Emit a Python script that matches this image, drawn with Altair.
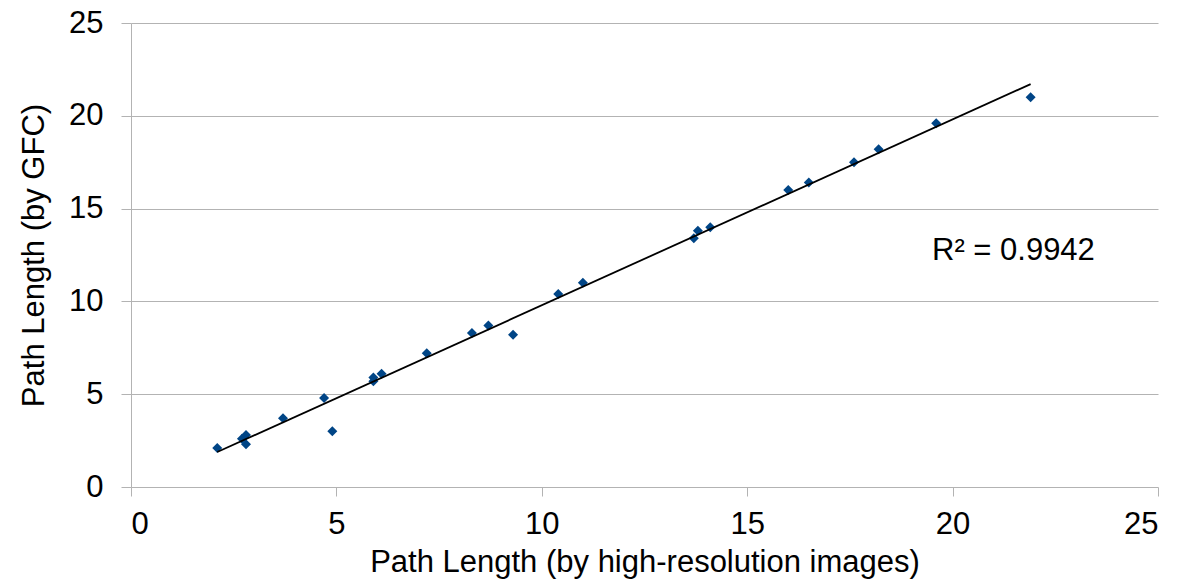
import altair as alt
import pandas as pd

x_vals = [2.1, 2.7, 2.8, 2.8, 3.7, 4.7, 4.9, 5.9, 5.9, 6.1, 7.2, 8.3, 8.7, 9.3,
          10.4, 11.0, 13.7, 13.8, 14.1, 16.0, 16.5, 17.6, 18.2, 19.6, 21.9]
y_vals = [2.1, 2.6, 2.8, 2.3, 3.7, 4.8, 3.0, 5.9, 5.7, 6.1, 7.2, 8.3, 8.7, 8.2,
          10.4, 11.0, 13.4, 13.8, 14.0, 16.0, 16.4, 17.5, 18.2, 19.6, 21.0]
r2_label = "R² = 0.9942"

df = pd.DataFrame({"x": x_vals, "y": y_vals})
FONT = "Liberation Sans"
FS = 31

xs = alt.Scale(domain=[0, 25], nice=False, zero=True)
ys = alt.Scale(domain=[0, 25], nice=False, zero=True)

base = alt.Chart(df)

points = base.mark_point(shape="diamond", filled=True, size=100, color="#004586", opacity=1).encode(
    x=alt.X("x:Q", scale=xs, title="Path Length (by high-resolution images)",
            axis=alt.Axis(values=[0, 5, 10, 15, 20, 25], grid=False, domain=False,
                          ticks=True, tickSize=9, tickColor="#b3b3b3",
                          labelFontSize=FS, labelFont=FONT, labelColor="black",
                          labelPadding=13, titleFontSize=FS, titleFont=FONT,
                          titleFontWeight="normal", titleColor="black", titlePadding=8)),
    y=alt.Y("y:Q", scale=ys, title="Path Length (by GFC)",
            axis=alt.Axis(values=[0, 5, 10, 15, 20, 25], grid=True, gridColor="#b3b3b3",
                          domain=True, domainColor="#b3b3b3", ticks=True, tickSize=10,
                          tickColor="#b3b3b3", labelFontSize=FS, labelFont=FONT,
                          labelColor="black", labelPadding=18, titleFontSize=FS,
                          titleFont=FONT, titleFontWeight="normal", titleColor="black",
                          titlePadding=18)),
)

trend = base.transform_regression("x", "y", method="linear").mark_line(
    color="black", strokeWidth=1.8).encode(
    x=alt.X("x:Q", scale=xs),
    y=alt.Y("y:Q", scale=ys),
)

label = alt.Chart(pd.DataFrame({"t": [r2_label]})).mark_text(
    font=FONT, fontSize=FS, color="black", align="left", baseline="alphabetic").encode(
    x=alt.value(801), y=alt.value(237), text="t:N")

chart = alt.layer(points, trend, label).properties(
    width=1027, height=464,
    padding={"left": 131, "top": 23, "right": 23, "bottom": 96},
    autosize=alt.AutoSizeParams(type="none"),
    background="white",
).configure_view(stroke=None)

chart.save("out.html", embed_options={"renderer": "svg", "actions": False})
